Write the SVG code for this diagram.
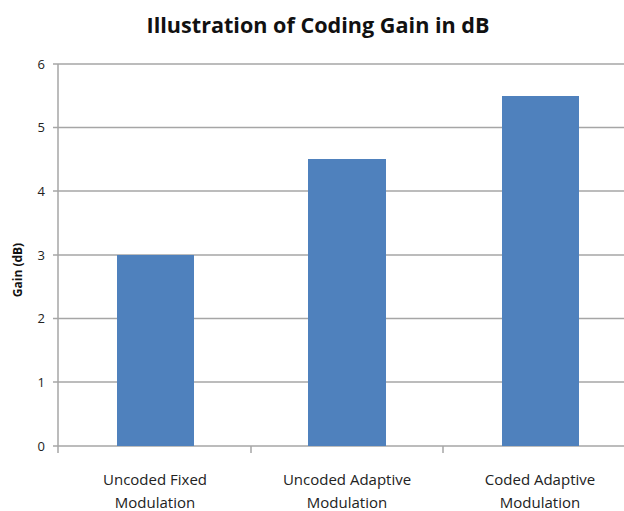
<svg xmlns="http://www.w3.org/2000/svg" width="624" height="511" viewBox="0 0 624 511">
<style>
.grid{stroke:#a6a6a6;stroke-width:1.5;fill:none}
.bar{fill:#4f81bd}
.tick{font-family:"Open Sans","Liberation Sans",sans-serif;font-size:13px;fill:#222;text-anchor:end}
.cat{font-family:"Open Sans","Liberation Sans",sans-serif;font-size:15px;fill:#222;text-anchor:middle}
</style>
<rect width="624" height="511" fill="#fff"/>
<text x="318" y="33" font-family="Open Sans, Liberation Sans, sans-serif" font-weight="bold" font-size="22" text-anchor="middle" textLength="343" lengthAdjust="spacingAndGlyphs" fill="#111">Illustration of Coding Gain in dB</text>
<g id="axes">
<path class="grid" d="M53 64H624M53 127.5H624M53 191H624M53 255H624M53 318.5H624M53 382H624M53 446H624M58 64V446M58 446V453M251 446V453M443 446V453"/>
</g>
<g id="ticks">
<text class="tick" x="45" y="68.5">6</text>
<text class="tick" x="45" y="132">5</text>
<text class="tick" x="45" y="195.5">4</text>
<text class="tick" x="45" y="259.5">3</text>
<text class="tick" x="45" y="323">2</text>
<text class="tick" x="45" y="386.5">1</text>
<text class="tick" x="45" y="450.5">0</text>
</g>
<text transform="translate(22 270) rotate(-90)" font-family="Open Sans, Liberation Sans, sans-serif" font-weight="bold" font-size="12" text-anchor="middle" fill="#111">Gain (dB)</text>
<g id="bar1"><rect class="bar" x="117" y="255" width="77" height="191"/>
<text class="cat" x="155" y="485">Uncoded Fixed</text><text class="cat" x="155" y="508">Modulation</text></g>
<g id="bar2"><rect class="bar" x="308" y="159" width="78" height="287"/>
<text class="cat" x="347" y="485">Uncoded Adaptive</text><text class="cat" x="347" y="508">Modulation</text></g>
<g id="bar3"><rect class="bar" x="502" y="96" width="77" height="350"/>
<text class="cat" x="540" y="485">Coded Adaptive</text><text class="cat" x="540" y="508">Modulation</text></g>
</svg>
